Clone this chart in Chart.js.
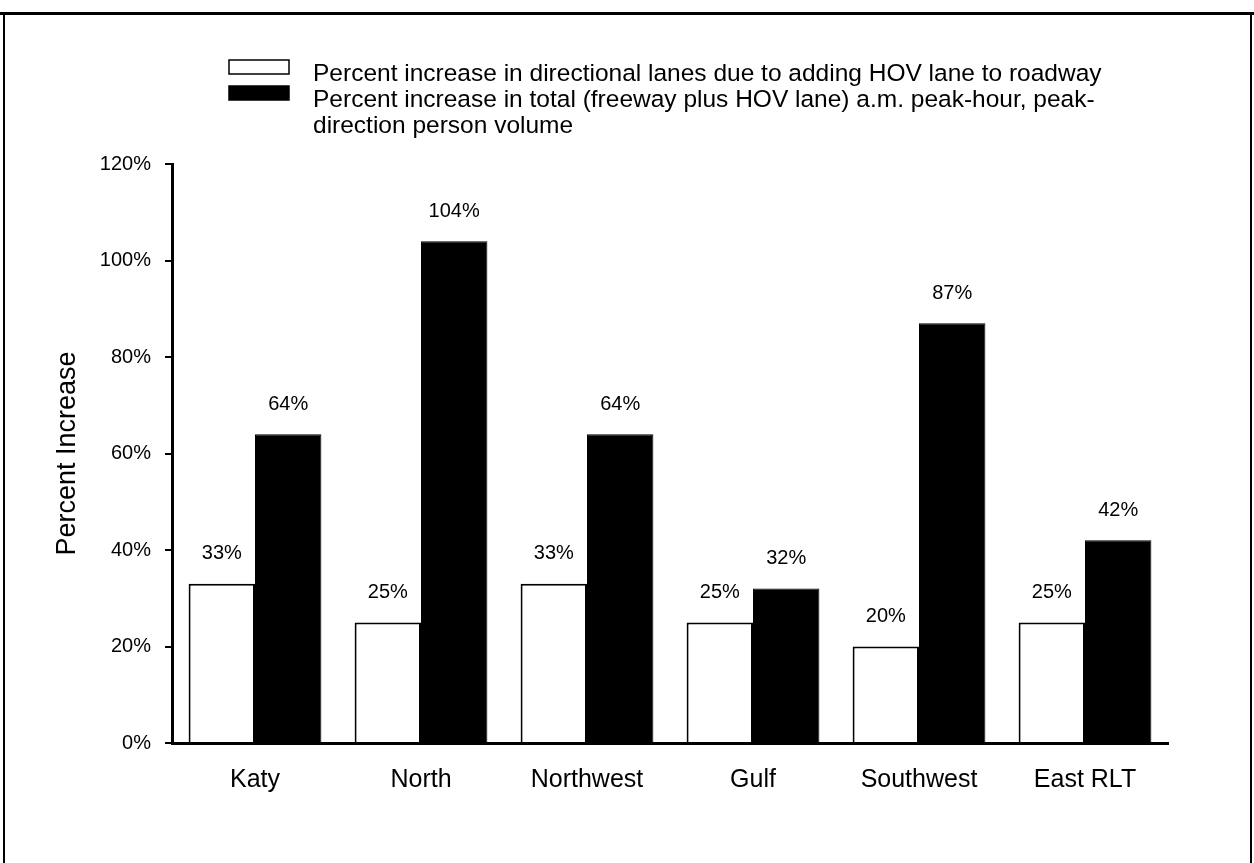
<!DOCTYPE html>
<html>
<head>
<meta charset="utf-8">
<script src="https://cdn.jsdelivr.net/npm/chart.js@4/dist/chart.umd.min.js"></script>
<style>
  html, body { margin: 0; padding: 0; background: #fff; }
  #wrap { position: relative; width: 1254px; height: 863px; }
</style>
</head>
<body>
<div id="wrap"><canvas id="chart" width="1254" height="863"></canvas></div>
<script>
// values
const categories = ['Katy', 'North', 'Northwest', 'Gulf', 'Southwest', 'East RLT'];
const laneIncrease = [33, 25, 33, 25, 20, 25];
const volumeIncrease = [64, 104, 64, 32, 87, 42];
const legendLines = [
  ['Percent increase in directional lanes due to adding HOV lane to roadway'],
  ['Percent increase in total (freeway plus HOV lane) a.m. peak-hour, peak-', 'direction person volume']
];
const yMax = 120;
const yStep = 20;

const FONT = '"Liberation Sans", Arial, Helvetica, sans-serif';

// page frame + white background
const framePlugin = {
  id: 'frame',
  beforeDraw(chart) {
    const ctx = chart.ctx;
    ctx.save();
    ctx.fillStyle = '#fff';
    ctx.fillRect(0, 0, chart.width, chart.height);
    ctx.strokeStyle = '#000';
    ctx.lineWidth = 3;
    ctx.beginPath();
    ctx.moveTo(0, 13.5);
    ctx.lineTo(chart.width, 13.5);
    ctx.stroke();
    ctx.lineWidth = 2;
    ctx.beginPath();
    ctx.moveTo(4, 13);
    ctx.lineTo(4, chart.height);
    ctx.moveTo(1251, 13);
    ctx.lineTo(1251, chart.height);
    ctx.stroke();
    ctx.restore();
  }
};

// percent labels above each bar
const valueLabels = {
  id: 'valueLabels',
  afterDatasetsDraw(chart) {
    const ctx = chart.ctx;
    ctx.save();
    ctx.font = '20px ' + FONT;
    ctx.fillStyle = '#000';
    ctx.textAlign = 'center';
    ctx.textBaseline = 'middle';
    chart.data.datasets.forEach((ds, i) => {
      chart.getDatasetMeta(i).data.forEach((bar, j) => {
        ctx.fillText(ds.data[j] + '%', bar.x, bar.y - 30);
      });
    });
    ctx.restore();
  }
};

// legend laid out like the original (boxes left, wrapped text)
const boxLegend = {
  id: 'boxLegend',
  afterDraw(chart) {
    const ctx = chart.ctx;
    ctx.save();
    ctx.font = '24.5px ' + FONT;
    ctx.textBaseline = 'middle';
    ctx.textAlign = 'left';
    const rows = [67, 93];
    chart.data.datasets.forEach((ds, i) => {
      const y = rows[i];
      ctx.fillStyle = ds.backgroundColor;
      ctx.fillRect(229, y - 7, 60, 14);
      ctx.strokeStyle = '#000';
      ctx.lineWidth = 1.5;
      ctx.strokeRect(229, y - 7, 60, 14);
      ctx.fillStyle = '#000';
      legendLines[i].forEach((line, k) => {
        ctx.fillText(line, 313, y + 7 + k * 26);
      });
    });
    ctx.restore();
  }
};

new Chart(document.getElementById('chart'), {
  type: 'bar',
  data: {
    labels: categories,
    datasets: [
      {
        label: legendLines[0].join(' '),
        data: laneIncrease,
        backgroundColor: '#fff',
        borderColor: '#000',
        borderWidth: 2,
        categoryPercentage: 0.8,
        barPercentage: 1.0
      },
      {
        label: legendLines[1].join(' '),
        data: volumeIncrease,
        backgroundColor: '#000',
        borderColor: '#000',
        borderWidth: 1,
        categoryPercentage: 0.8,
        barPercentage: 1.0
      }
    ]
  },
  options: {
    responsive: false,
    animation: false,
    devicePixelRatio: 1,
    layout: { padding: { top: 164, right: 86, bottom: 0, left: 0 } },
    plugins: {
      legend: { display: false },
      tooltip: { enabled: false }
    },
    scales: {
      x: {
        grid: { display: true, drawOnChartArea: false, drawTicks: false },
        border: { display: true, color: '#000', width: 3 },
        ticks: { color: '#000', font: { family: FONT, size: 25 }, padding: 22 },
        afterFit: s => { s.height = 120; }
      },
      y: {
        min: 0,
        max: yMax,
        grid: { drawOnChartArea: false, color: '#000', lineWidth: 2, tickLength: 7 },
        border: { display: true, color: '#000', width: 3 },
        ticks: {
          stepSize: yStep,
          color: '#000',
          font: { family: FONT, size: 20 },
          padding: 14,
          callback: v => v + '%'
        },
        title: {
          display: true,
          text: 'Percent Increase',
          color: '#000',
          font: { family: FONT, size: 27 },
          padding: { top: 51, bottom: 0 }
        },
        afterFit: s => { s.width = 172; }
      }
    }
  },
  plugins: [framePlugin, valueLabels, boxLegend]
});
</script>
</body>
</html>
